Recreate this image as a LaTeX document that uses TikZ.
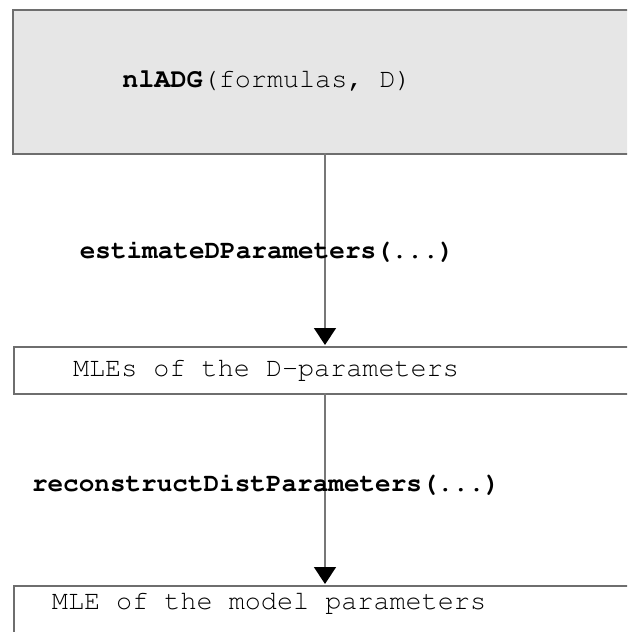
\documentclass[tikz,border=0pt]{standalone}
\usepackage[T1,TU]{fontenc}
\usetikzlibrary{arrows.meta}
\definecolor{boxgray}{HTML}{E6E6E6}
\definecolor{edgegray}{HTML}{6E6E6E}
\definecolor{linegray}{HTML}{777777}
\newcommand{\courierfont}{\fontencoding{T1}\fontfamily{pcr}\fontsize{26.8}{30}\selectfont}
\newcommand{\courierbold}{\fontencoding{T1}\fontfamily{pcr}\fontseries{b}\fontsize{26}{30}\selectfont}
\tikzset{
  box/.style={draw=edgegray, line width=2pt, rectangle, inner sep=0pt},
  txt/.style={font=\courierfont, text=black, inner sep=0pt, anchor=center},
  lab/.style={font=\courierbold, text=black, inner sep=0pt, anchor=center},
  conn/.style={draw=linegray, line width=1.5pt, -{Triangle[width=22pt,length=17pt,fill=black,color=black]}, shorten >=0pt}
}
\begin{document}
\begin{tikzpicture}[x=1pt,y=-1pt]
\useasboundingbox (0,0) rectangle (627,632);
\clip (0,0) rectangle (627,632);
\fill[white] (0,0) rectangle (627,632);
% boxes
\node[box, fill=boxgray, minimum width=700pt, minimum height=144pt, anchor=north west] (top) at (12,9) {};
\node[box, fill=white, minimum width=700pt, minimum height=47pt, anchor=north west] (mid) at (13,346) {};
\node[box, fill=white, minimum width=700pt, minimum height=80pt, anchor=north west] (bot) at (13,585) {};
% texts
\node[txt] (toptxt) at (267,80) {\textbf{nlADG}(formulas, D)};
\node[txt] (midtxt) at (266,370) {MLEs of the D-parameters};
\node[txt] (bottxt) at (269,603) {MLE of the model parameters};
% connector end points
\coordinate (c1) at (325,153);
\coordinate (c2) at (325,345);
\coordinate (c3) at (325,393);
\coordinate (c4) at (325,584);
\draw[conn] (c1) -- (c2);
\draw[conn] (c3) -- (c4);
% labels
\node[lab] (lab1) at (267,251) {estimateDParameters(...)};
\node[lab] (lab2) at (266,484) {reconstructDistParameters(...)};
\end{tikzpicture}
\end{document}
